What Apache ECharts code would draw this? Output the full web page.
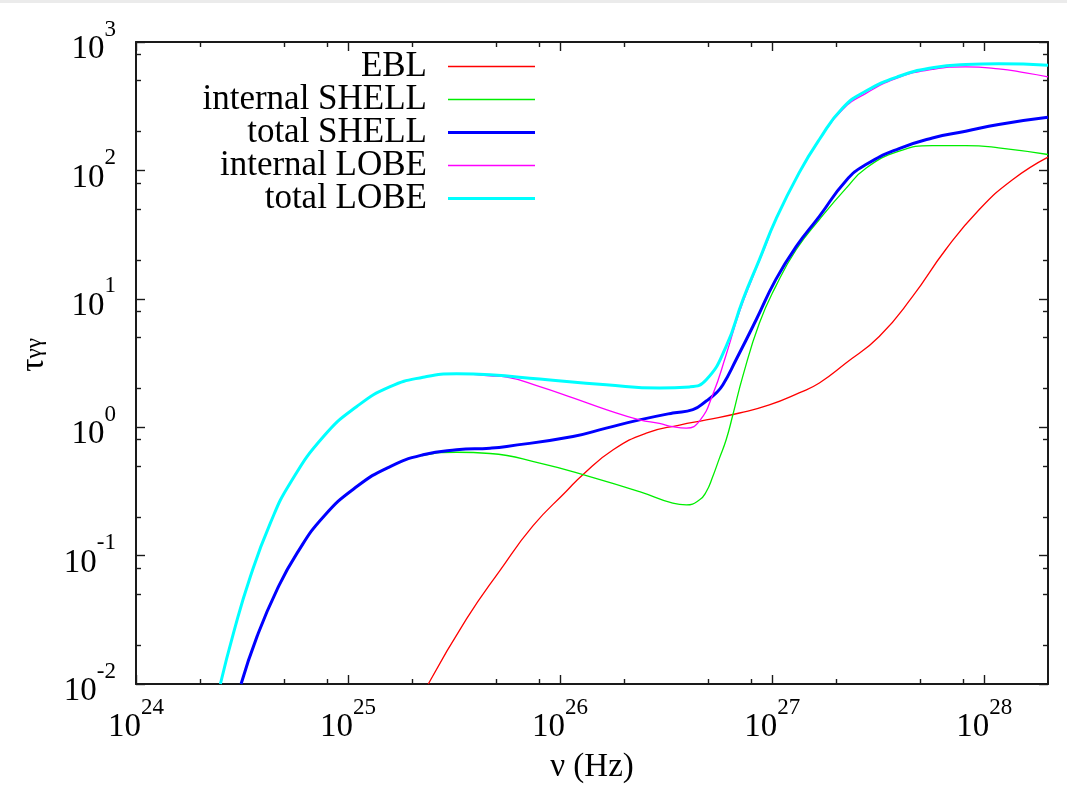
<!DOCTYPE html>
<html>
<head>
<meta charset="utf-8">
<script src="https://cdn.jsdelivr.net/npm/echarts@6/dist/echarts.min.js"></script>
<style>
  html, body { margin: 0; padding: 0; background: #fff; }
  #chart { width: 1067px; height: 803px; }
</style>
</head>
<body>
<div id="chart"></div>
<script>
// Photon-photon opacity tau_gg versus frequency for the EBL, shell and lobe components.
const seriesNames = ['EBL', 'internal SHELL', 'total SHELL', 'internal LOBE', 'total LOBE'];

const eblNu  = [2.39e25, 3.62e25, 5.20e25, 7.46e25, 1.07e26, 1.28e26, 1.78e26, 2.55e26, 3.66e26, 4.89e26,
                7.02e26, 9.70e26, 1.34e27, 1.67e27, 2.23e27, 3.20e27, 4.59e27, 6.59e27, 9.46e27, 1.36e28,
                2.0e28];
const eblTau = [0.0100, 0.0321, 0.0764, 0.171, 0.317, 0.427, 0.667, 0.899, 1.04, 1.14,
                1.29, 1.49, 1.85, 2.21, 3.16, 5.09, 10.4, 24.2, 49.4, 84.7,
                127];

const shellInNu  = [3.13e24, 3.72e24, 4.62e24, 5.74e24, 7.66e24, 1.10e25, 1.58e25, 2.26e25, 3.25e25, 4.67e25,
                    8.02e25, 1.38e26, 2.37e26, 3.40e26, 3.94e26, 4.55e26, 4.89e26, 5.25e26, 5.65e26, 6.07e26,
                    6.53e26, 7.28e26, 8.71e26, 1.04e27, 1.30e27, 1.67e27, 2.23e27, 2.77e27, 3.97e27, 5.70e27,
                    8.18e27, 1.17e28, 2.0e28];
const shellInTau = [0.0100, 0.0234, 0.0541, 0.104, 0.201, 0.345, 0.494, 0.603, 0.638, 0.624,
                    0.525, 0.413, 0.315, 0.256, 0.248, 0.272, 0.314, 0.413, 0.577, 0.798,
                    1.25, 2.51, 6.47, 12.5, 24.2, 41.4, 72.4, 104, 141, 156,
                    156, 150, 133];

const shellTotNu  = [3.13e24, 3.72e24, 4.62e24, 5.74e24, 7.66e24, 1.10e25, 1.58e25, 2.26e25, 3.25e25, 4.67e25,
                     5.60e25, 1.15e26, 1.65e26, 2.37e26, 3.40e26, 4.23e26, 4.89e26, 5.45e26, 5.86e26, 6.76e26,
                     8.41e26, 1.04e27, 1.30e27, 1.67e27, 2.23e27, 2.77e27, 3.97e27, 5.70e27, 8.18e27, 1.17e28,
                     2.0e28];
const shellTotTau = [0.0100, 0.0234, 0.0541, 0.104, 0.201, 0.345, 0.494, 0.610, 0.667, 0.687,
                     0.708, 0.847, 0.984, 1.14, 1.29, 1.37, 1.60, 1.85, 2.14, 3.35,
                     6.87, 14.1, 25.6, 43.9, 83.2, 111, 148, 179, 202, 228,
                     259];

const lobeInNu  = [2.50e24, 2.88e24, 3.46e24, 4.30e24, 5.33e24, 7.66e24, 1.10e25, 1.58e25, 2.26e25, 3.25e25,
                   4.67e25, 5.60e25, 8.02e25, 1.15e26, 1.65e26, 2.37e26, 2.94e26, 3.40e26, 3.94e26, 4.55e26,
                   5.25e26, 6.07e26, 7.02e26, 8.11e26, 9.35e26, 1.04e27, 1.34e27, 1.67e27, 2.15e27, 2.77e27,
                   3.97e27, 5.70e27, 8.18e27, 1.17e28, 1.57e28, 2.0e28];
const lobeInTau = [0.0100, 0.0248, 0.0685, 0.179, 0.366, 0.847, 1.45, 2.07, 2.45, 2.61,
                   2.51, 2.45, 2.07, 1.69, 1.37, 1.14, 1.07, 1.01, 0.984, 1.12,
                   1.80, 3.67, 7.94, 14.8, 26.3, 41.4, 95.7, 174, 298, 398,
                   531, 611, 641, 618, 575, 536];

const lobeTotNu  = [2.50e24, 2.88e24, 3.46e24, 4.30e24, 5.33e24, 7.66e24, 1.10e25, 1.58e25, 2.26e25, 3.25e25,
                    4.67e25, 8.02e25, 1.65e26, 2.94e26, 4.08e26, 4.89e26, 6.07e26, 7.28e26, 8.71e26, 1.04e27,
                    1.34e27, 1.67e27, 2.15e27, 2.77e27, 3.97e27, 5.70e27, 8.18e27, 1.17e28, 2.0e28];
const lobeTotTau = [0.0100, 0.0248, 0.0685, 0.179, 0.366, 0.847, 1.45, 2.07, 2.45, 2.61,
                    2.56, 2.37, 2.14, 2.02, 2.06, 2.34, 4.26, 9.84, 20.2, 41.4,
                    95.7, 174, 306, 415, 541, 630, 668, 676, 659];

// Axis ranges and tick positions
const nuRange  = [1e24, 2e28];
const tauRange = [1e-2, 1e3];
const xMajorTicks = [1e24, 1e25, 1e26, 1e27, 1e28];
const xMinorTicks = [2e24, 5e24, 8e24, 2e25, 5e25, 8e25, 2e26, 5e26, 8e26, 2e27, 5e27, 8e27];
const yMajorTicks = [1e-2, 1e-1, 1, 10, 100, 1000];
const yMinorTicks = [0.02, 0.05, 0.08, 0.2, 0.5, 0.8, 2, 5, 8, 20, 50, 80, 200, 500, 800];

const FONT = 'Liberation Serif';
const INK = '#1a1a1a';
const thin = 1.3, thick = 3;

function pairs(xs, ys) { return xs.map((x, i) => [x, ys[i]]); }

const powRich = {
  b: { fontFamily: FONT, fontSize: 33, lineHeight: 48, verticalAlign: 'bottom', color: '#000' },
  s: { fontFamily: FONT, fontSize: 23, lineHeight: 24, verticalAlign: 'top', color: '#000' }
};
function powLabel(v) {
  return '{b|10}{s|' + Math.round(Math.log10(v)) + '}';
}

function makeAxis(kind, pos, minor) {
  const range = kind === 'x' ? nuRange : tauRange;
  const ticks = kind === 'x' ? (minor ? xMinorTicks : xMajorTicks) : (minor ? yMinorTicks : yMajorTicks);
  const withLabels = !minor && (pos === 'bottom' || pos === 'left');
  return {
    type: 'log',
    logBase: 10,
    min: range[0],
    max: range[1],
    position: pos,
    gridIndex: 0,
    axisLine: { show: !minor, onZero: false, lineStyle: { color: INK, width: 2 } },
    axisTick: { show: true, inside: true, length: minor ? 5 : 9, customValues: ticks,
                lineStyle: { color: INK, width: 1.4 } },
    axisLabel: withLabels ? {
      show: true, customValues: ticks, formatter: powLabel, rich: powRich,
      margin: kind === 'x' ? 12 : 20
    } : { show: false },
    splitLine: { show: false },
    minorTick: { show: false },
    minorSplitLine: { show: false }
  };
}

const xAxes = [makeAxis('x', 'bottom', false), makeAxis('x', 'bottom', true),
               makeAxis('x', 'top', false), makeAxis('x', 'top', true)];
const yAxes = [makeAxis('y', 'left', false), makeAxis('y', 'left', true),
               makeAxis('y', 'right', false), makeAxis('y', 'right', true)];

xAxes[0].name = 'ν (Hz)';
xAxes[0].nameLocation = 'middle';
xAxes[0].nameGap = 63;
xAxes[0].nameTextStyle = { fontFamily: FONT, fontSize: 33, lineHeight: 36, color: '#000' };

yAxes[0].name = '{t|τ}{s|γγ}';
yAxes[0].nameLocation = 'middle';
yAxes[0].nameRotate = 90;
yAxes[0].nameGap = 90;
yAxes[0].nameTextStyle = {
  padding: [0, 0, 0, 16],
  rich: {
    t: { fontFamily: FONT, fontSize: 33, lineHeight: 28, verticalAlign: 'top', color: '#000' },
    s: { fontFamily: FONT, fontSize: 23, lineHeight: 24, verticalAlign: 'bottom', color: '#000' }
  }
};

const styles = [
  { color: '#ff0000', width: thin },
  { color: '#00ee00', width: thin },
  { color: '#0000ff', width: thick },
  { color: '#ff00ff', width: thin },
  { color: '#00ffff', width: thick }
];
const dataSets = [
  pairs(eblNu, eblTau),
  pairs(shellInNu, shellInTau),
  pairs(shellTotNu, shellTotTau),
  pairs(lobeInNu, lobeInTau),
  pairs(lobeTotNu, lobeTotTau)
];

// Legend key: a plain horizontal stroke per entry, as wide as the sample box.
const KEY_W = 87, KEY_H = 14;
function keyIcon(w) {
  const a = (KEY_H - w) / 2, b = (KEY_H + w) / 2;
  return 'path://M0,0L0,0M' + KEY_W + ',' + KEY_H + 'L' + KEY_W + ',' + KEY_H +
         'M0,' + a + 'L' + KEY_W + ',' + a + 'L' + KEY_W + ',' + b + 'L0,' + b + 'Z';
}

const chart = echarts.init(document.getElementById('chart'), null, { renderer: 'canvas' });
chart.setOption({
  animation: false,
  backgroundColor: '#ffffff',
  graphic: [{ type: 'rect', shape: { x: 0, y: 0, width: 1067, height: 3 }, style: { fill: '#ebebeb' }, silent: true }],
  grid: { left: 136, right: 19, top: 42, bottom: 119, containLabel: false },
  legend: {
    data: seriesNames.map((name, i) => ({ name: name, icon: keyIcon(styles[i].width) })),
    orient: 'vertical',
    right: 532,
    top: 49,
    padding: 0,
    align: 'right',
    itemWidth: KEY_W,
    itemHeight: KEY_H,
    itemGap: -2,
    selectedMode: false,
    itemStyle: { borderWidth: 0 },
    textStyle: { fontFamily: FONT, fontSize: 35, color: '#000', padding: [0, 16, 0, 0] }
  },
  xAxis: xAxes,
  yAxis: yAxes,
  series: seriesNames.map((name, i) => ({
    name: name,
    type: 'line',
    xAxisIndex: 0,
    yAxisIndex: 0,
    data: dataSets[i],
    symbol: 'none',
    smooth: 0.5,
    clip: true,
    color: styles[i].color,
    lineStyle: { color: styles[i].color, width: styles[i].width },
    itemStyle: { color: styles[i].color },
    emphasis: { disabled: true }
  }))
});
</script>
</body>
</html>
